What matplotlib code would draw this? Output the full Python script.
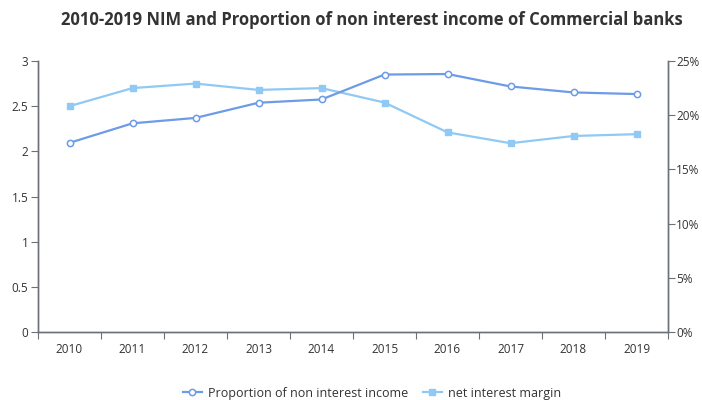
import matplotlib
matplotlib.use("Agg")
import matplotlib.pyplot as plt
from matplotlib.ticker import FuncFormatter, MultipleLocator

years = ["2010", "2011", "2012", "2013", "2014", "2015", "2016", "2017", "2018", "2019"]
nim = [2.50, 2.70, 2.75, 2.68, 2.70, 2.54, 2.21, 2.09, 2.17, 2.19]
non_interest = [17.45, 19.25, 19.75, 21.15, 21.45, 23.75, 23.80, 22.65, 22.10, 21.95]

dark = "#6E9BE8"
light = "#90C9F4"
axis_c = "#6E7079"

plt.rcParams['font.family'] = ['Open Sans', 'DejaVu Sans']

fig = plt.figure(figsize=(7.02, 4.0), dpi=100)
ax = fig.add_axes([38/702, 68/400, 630/702, 271/400])
ax2 = ax.twinx()

x = list(range(len(years)))
ax2.plot(x, non_interest, color=dark, lw=1.6, marker='o', ms=4.5,
         mfc='white', mec=dark, mew=1.1, label="Proportion of non interest income", zorder=3)
ax.plot(x, nim, color=light, lw=1.6, marker='s', ms=4, mfc=light, mec=light,
        label="net interest margin", zorder=2)

ax.set_xlim(-0.5, len(years) - 0.5)
ax.set_ylim(0, 3)
ax2.set_ylim(0, 25)
ax.yaxis.set_major_locator(MultipleLocator(0.5))
ax.yaxis.set_major_formatter(FuncFormatter(lambda v, p: f"{v:g}"))
ax2.yaxis.set_major_locator(MultipleLocator(5))
ax2.yaxis.set_major_formatter(FuncFormatter(lambda v, p: f"{int(v)}%"))

ax.set_xticks([i - 0.5 for i in range(len(years) + 1)], minor=False)
ax.set_xticklabels([])
ax.set_xticks(x, minor=True)
ax.set_xticklabels(years, minor=True)
ax.tick_params(axis='x', which='major', length=5, color=axis_c)
ax.tick_params(axis='x', which='minor', length=0, labelsize=8.5, labelcolor='#333333', pad=8)
ax.tick_params(axis='y', length=5, color=axis_c, labelsize=8.5, labelcolor='#333333', pad=2)
ax2.tick_params(axis='y', length=5, color=axis_c, labelsize=8.5, labelcolor='#333333', pad=1)

for a in (ax, ax2):
    a.spines['top'].set_visible(False)
    for s in ('left', 'right', 'bottom'):
        a.spines[s].set_color(axis_c)
        a.spines[s].set_linewidth(1)

fig.text(372/702, 1 - 20/400, "2010-2019 NIM and Proportion of non interest income of Commercial banks",
         ha='center', va='center', fontsize=12, fontweight='bold', color='#333333')

h1, l1 = ax2.get_legend_handles_labels()
h2, l2 = ax.get_legend_handles_labels()
fig.legend(h1 + h2, l1 + l2, loc='center', bbox_to_anchor=(372/702, 1 - 393/400),
           ncol=2, frameon=False, fontsize=9, handlelength=1.5, columnspacing=1.2,
           handletextpad=0.5, labelcolor='#333333')

fig.savefig("out.png", dpi=100)
